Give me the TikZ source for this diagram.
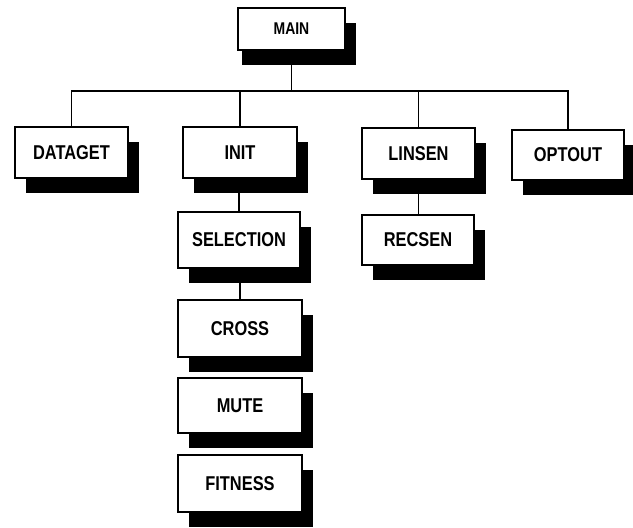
\documentclass[tikz,border=0pt]{standalone}
\usepackage{fontspec}
\setmainfont{Liberation Sans}[FakeStretch=0.82]
\usetikzlibrary{shadows,backgrounds}
\begin{document}
\begin{tikzpicture}[x=1pt,y=-1pt,
  box/.style={draw=black,line width=1.1pt,fill=white,inner sep=0pt,
    minimum width=113pt,minimum height=51pt,
    font=\fontsize{20}{22}\selectfont\bfseries,
    drop shadow={shadow xshift=11pt,shadow yshift=-15pt,fill=black,opacity=1}},
  link/.style={line width=1.2pt}]
\useasboundingbox (0,0) rectangle (633,528);
\coordinate (bus) at (0,91);
\node[box,minimum width=107pt,minimum height=42pt,font=\fontsize{17}{19}\selectfont\bfseries,
  drop shadow={shadow xshift=4pt,shadow yshift=-15pt,fill=black,opacity=1}] (main) at (291.5,29) {MAIN};
\node[box] (dataget) at (71.5,152.5) {DATAGET};
\node[box,minimum width=114pt] (init) at (240,152.5) {INIT};
\node[box] (linsen) at (418.5,153.5) {LINSEN};
\node[box,minimum width=112pt,minimum height=50pt] (optout) at (568,155) {OPTOUT};
\node[box,minimum width=112pt,minimum height=50pt] (recsen) at (418,240) {RECSEN};
\node[box,minimum width=122pt,minimum height=56pt] (selection) at (239,240) {SELECTION};
\node[box,minimum width=124pt,minimum height=57pt] (cross) at (240,328.5) {CROSS};
\node[box,minimum width=124pt,minimum height=55pt] (mute) at (240,405.5) {MUTE};
\node[box,minimum width=124pt,minimum height=57pt] (fitness) at (240,483.5) {FITNESS};
\begin{scope}[on background layer]
\draw[link] (main.south) -- (main.south |- bus);
\draw[link] (dataget.north) -- (dataget.north |- bus) -- (optout.north |- bus) -- (optout.north);
\draw[link] (init.north) -- (init.north |- bus);
\draw[link] (linsen.north) -- (linsen.north |- bus);
\draw[link] (init.south) -- (init.south -| selection.north) -- (selection.north);
\draw[link] (selection.south) -- (selection.south -| cross.north) -- (cross.north);
\draw[link] (linsen.south) -- (linsen.south |- recsen.north);
\end{scope}
\end{tikzpicture}
\end{document}
